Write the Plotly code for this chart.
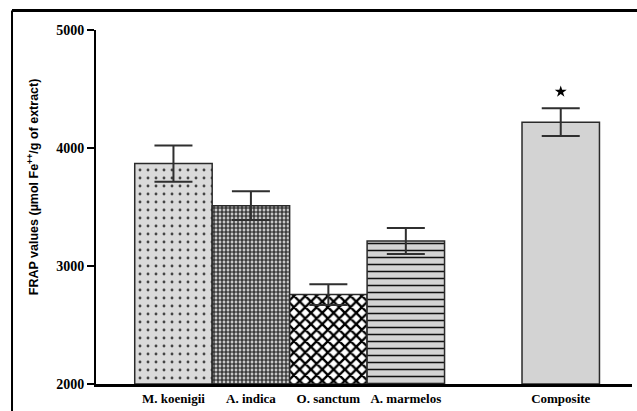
import plotly.graph_objects as go

categories = ["M. koenigii", "A. indica", "O. sanctum", "A. marmelos", "Composite"]
positions = [0, 1, 2, 3, 5]
frap_values = [3868, 3511, 2758, 3211, 4219]
frap_sem = [154, 122, 88, 110, 118]
star_value = 4477
y_ticks = [2000, 3000, 4000, 5000]

fills = ["#dadada", "#c8c8c8", "#ffffff", "#d4d4d4", "#d3d3d3"]
shapes_p = [".", "+", "x", "-", ""]
fgcols = ["#444444", "#1a1a1a", "#000000", "#111111", "#d3d3d3"]
sizes = [8, 4, 8, 7, 8]
solid = [0.1, 0.5, 0.5, 0.22, 0.3]

fig = go.Figure()
for i in range(len(categories)):
    fig.add_trace(go.Bar(
        x=[positions[i]], y=[frap_values[i] - 2000], base=2000,
        width=1.0,
        marker=dict(color=fills[i],
                    line=dict(color="#2a2a2a", width=1.5),
                    pattern=dict(shape=shapes_p[i], fgcolor=fgcols[i], bgcolor=fills[i],
                                 size=sizes[i], solidity=solid[i], fillmode="replace")),
        error_y=dict(type="data", array=[frap_sem[i]], visible=True,
                     color="#2f2f2f", thickness=2, width=19),
        showlegend=False, hoverinfo="skip"))

fig.add_trace(go.Scatter(x=[positions[4]], y=[star_value], mode="markers",
                         marker=dict(symbol="star", size=9, color="black"),
                         showlegend=False, hoverinfo="skip"))

fig.update_layout(
    width=637, height=411,
    margin=dict(l=96, r=5, t=30, b=25),
    paper_bgcolor="white", plot_bgcolor="white",
    barmode="overlay",
    xaxis=dict(range=[-1.0, 5.92], tickvals=positions, ticktext=categories,
               showgrid=False, zeroline=False, showline=True, linecolor="black",
               linewidth=3, ticks="", ticklen=0,
               tickfont=dict(family="Liberation Serif", size=13, color="black", weight="bold")),
    yaxis=dict(range=[2000, 5000], tickvals=y_ticks, showgrid=False, zeroline=False,
               showline=True, linecolor="black", linewidth=2, ticks="outside",
               ticklen=7, tickwidth=2, tickcolor="black",
               tickfont=dict(family="Liberation Serif", size=14, color="black", weight="bold")),
    annotations=[dict(text="FRAP values (µmol Fe<sup>++</sup>/g of extract)",
                      xref="paper", yref="paper", x=-0.1175, y=0.556,
                      xanchor="center", yanchor="middle",
                      textangle=-90, showarrow=False,
                      font=dict(family="Liberation Sans", size=12.5, color="black", weight="bold"))],
    shapes=[
        dict(type="line", xref="paper", yref="paper", x0=-0.1567, x1=-0.1567, y0=1.0548, y1=-0.08,
             line=dict(color="black", width=2)),
        dict(type="line", xref="paper", yref="paper", x0=-0.1567, x1=1.02, y0=1.0548, y1=1.0548,
             line=dict(color="black", width=3)),
    ],
)

fig.write_html("out.html", config={"displayModeBar": False},
               post_script="document.body.style.margin='0px';document.body.style.overflow='hidden';")
